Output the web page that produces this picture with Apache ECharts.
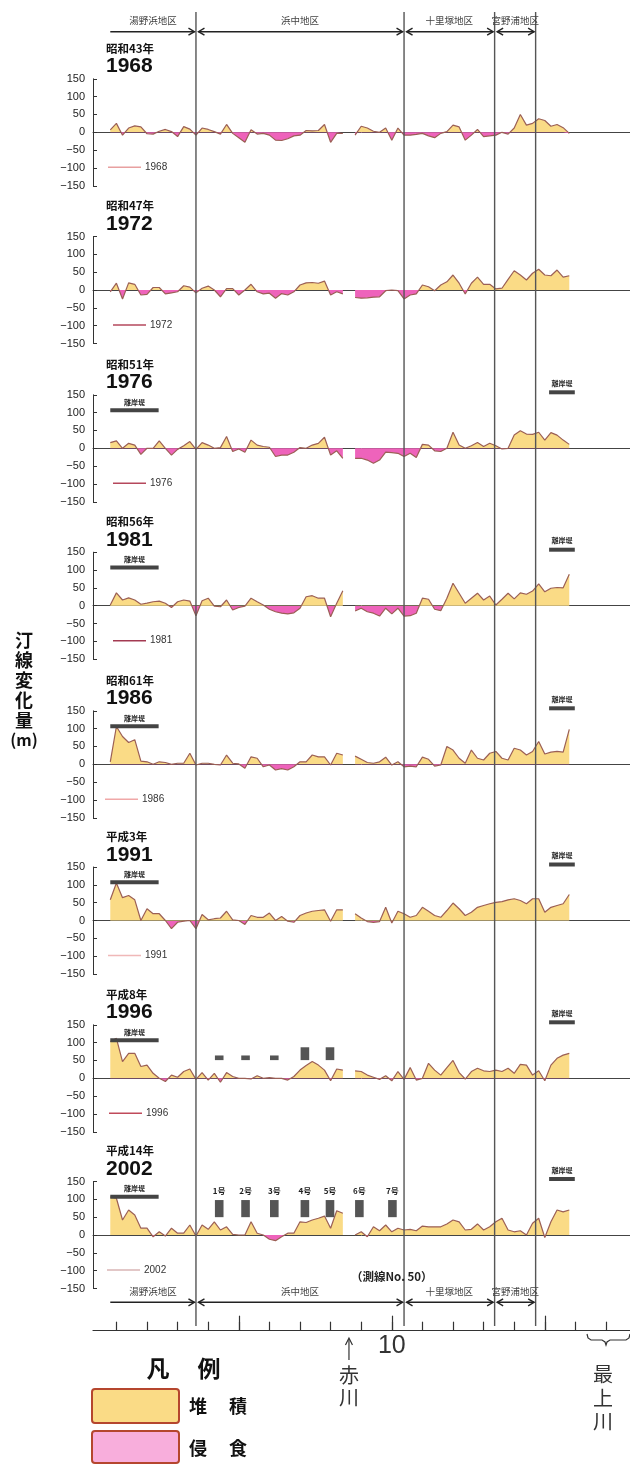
<!DOCTYPE html>
<html><head><meta charset="utf-8">
<script src="https://cdn.jsdelivr.net/npm/echarts@6/dist/echarts.min.js"></script>
<style>html,body{margin:0;padding:0;background:#fff}#c{width:630px;height:1465px}</style>
</head><body><div id="c"></div>
<script>
// ---------------- DATA ----------------
const years = ['1968','1972','1976','1981','1986','1991','1996','2002'];
const eras = ['昭和43年','昭和47年','昭和51年','昭和56年','昭和61年','平成3年','平成8年','平成14年'];
// survey line numbers (測線No.)
const surveyLines = [4,5,6,7,8,9,10,11,12,13,14,15,16,17,18,19,20,21,22,23,24,25,26,27,28,29,30,31,32,33,34,35,36,37,38,39,40,41,42,43,44,45,46,47,48,49,50,51,52,53,54,55,56,57,58,59,60,61,62,63,64,65,66,67,68,69,70,71,72,73,74,75,76,77,78,79];
const v1968 = [7,25,-8,12,18,15,-4,-5,3,8, 2,-12,16,9,-8,12,8,2,-5,22, -3,-15,-28,7,-5,-3,-8,-22,-23,-18, -10,-8,5,4,5,22,-28,-3,-3, null, -8,17,12,3,0,12,-22,12,-8,-8, -6,-3,-10,-15,-3,2,20,15,-22,-8, 8,-12,-10,-8,0,-5,12,50,20,25, 38,33,17,22,13,-3];
const v1972 = [-5,19,-25,20,16,-14,-12,7,7,-11, -8,-5,12,8,-8,5,11,0,-19,4, 4,-14,0,16,-5,-11,-9,-23,-10,-14, -5,14,20,21,19,25,-14,-5,-11, null, -21,-23,-22,-20,-19,-2,0,-2,-25,-14, -11,14,9,-2,14,23,42,19,-11,19, 36,16,16,3,5,30,54,42,28,47, 58,42,40,56,36,40];
const v1976 = [16,21,0,14,9,-17,0,0,21,0, -19,-3,7,19,-3,16,9,0,2,33, -9,-2,-11,23,9,5,3,-23,-19,-19, -11,2,0,9,14,31,-19,-7,-28, null, -28,-28,-33,-42,-33,-11,-12,-14,-23,-14, -26,11,9,-7,-9,0,45,9,0,7, 16,5,14,7,-2,0,37,49,40,39, 45,23,44,37,23,11];
const v1981 = [2,36,16,22,16,4,7,11,13,7, -5,11,16,13,-28,14,21,-1,-3,16, -12,-5,-1,21,11,2,-10,-17,-21,-23, -20,-7,25,28,21,21,-31,7,42, null, -15,-7,-17,-21,-29,-7,-23,-7,-29,-28, -21,21,18,-10,-14,21,63,35,7,21, 35,16,27,2,18,35,19,36,32,41, 61,39,49,51,50,88];
const v1986 = [7,106,78,61,69,9,7,0,7,5, 0,3,3,31,-2,3,3,0,-2,26, 3,1,-11,21,17,-7,-2,-16,-12,-16, -7,7,7,26,21,21,-2,31,26, null, 23,14,5,3,7,20,-2,7,-7,-5, -7,20,14,-5,-2,50,40,17,3,40, 17,12,31,36,17,12,45,40,26,36, 64,29,34,36,34,98];
const v1991 = [58,105,64,70,58,0,33,19,19,0, -23,-5,-2,0,-23,17,2,5,7,26, 2,0,-11,14,9,9,21,0,11,-2, -5,14,21,26,28,30,-2,30,30, null, 19,7,-3,-5,-3,37,-7,26,19,9, 14,37,26,14,9,28,49,33,14,23, 37,42,47,51,53,58,61,56,47,61, 61,23,37,42,47,73];
const v1996 = [103,112,47,70,70,33,37,14,0,-9, 9,3,19,26,-3,16,-5,14,-11,16, 5,0,0,-2,7,0,2,0,0,-5, 5,23,36,47,37,23,-7,26,23, null, 21,19,9,3,-3,7,-7,19,-3,30, -5,0,42,23,9,30,50,16,-2,19, 28,21,19,23,19,28,14,39,37,9, 21,-7,37,56,65,70];
const v2002 = [107,103,42,70,56,19,19,-5,9,-3, 19,5,5,28,-3,28,16,37,14,23, 2,0,0,37,5,0,-12,-16,-5,5, 5,37,35,42,47,53,19,68,61, null, 0,9,-5,23,12,28,9,19,14,16, 12,25,23,23,23,31,42,37,14,16, 31,14,23,37,47,14,9,12,0,33, 47,-7,37,70,65,70];
const allValues = [v1968,v1972,v1976,v1981,v1986,v1991,v1996,v2002];

const districts = ['湯野浜地区','浜中地区','十里塚地区','宮野浦地区'];
const districtFrom = [4, 18, 52, 66.8];
const districtTo = [18, 52, 66.8, 73.5];
const bottomTickLines = [5,10,15,20,25,30,35,40,45,50,55,60,65,70,75,80,85];
const majorTickLines = [25,50,75];
const labelledTick = [50];
const akagawaLine = 43;
const mogamiLine = 85;

// 離岸堤 (detached breakwaters)
const bwLeftPanels = [2,3,4,5,6,7];
const bwLeftRange = [4, 11.9]; const bwLeftLevel = 107;
const bwRightPanels = [2,3,4,5,6,7];
const bwRightRange = [75.7, 79.9]; const bwRightLevel = 157;
// structures in 浜中
const struct1996Lines = [21.8, 26.1, 30.8, 35.8, 39.9];
const struct1996Low = [51, 51, 51, 51, 51];
const struct1996High = [64, 64, 64, 87, 87];
const struct2002Names = ['1号','2号','3号','4号','5号','6号','7号'];
const struct2002Lines = [21.8, 26.1, 30.8, 35.8, 39.9, 44.7, 50.1];
const struct2002Low = 50, struct2002High = 98, struct2002Label = 124;

// ---------------- LAYOUT / STYLE ----------------
const zeros = [132.3, 290, 448.3, 605.7, 764.3, 920.5, 1078.3, 1235];
const HALF = 53.5;
const X_MIN = 1.176, X_MAX = 88.92;
const YELLOW = '#FADB86', PINK = '#EE63BB', LINE = '#9b5f55';
const JP = "'Noto Sans CJK JP', sans-serif";
const NUM = "'Liberation Sans', Arial, sans-serif";
const legendLineColors = ['#e8a0a0','#b5485c','#b5485c','#a33a52','#f0a8a8','#f0b8b8','#c04a5a','#d8b4b4'];
const legendX = [108,113,113,113,105,108,109,107];

const chart = echarts.init(document.getElementById('c'), null, {renderer:'canvas'});
const grids = [], xAxes = [], yAxes = [], series = [];
allValues.forEach((vals, i) => {
  grids.push({left:93, right:0, top:zeros[i]-HALF, height:2*HALF});
  xAxes.push({type:'value', gridIndex:i, min:X_MIN, max:X_MAX,
    axisLine:{show:true, onZero:true, lineStyle:{color:'#444', width:1}},
    axisTick:{show:false}, axisLabel:{show:false}, splitLine:{show:false}});
  yAxes.push({type:'value', gridIndex:i, min:-150, max:150, interval:50,
    axisLine:{show:true, lineStyle:{color:'#333', width:1}},
    axisTick:{show:true, inside:true, length:4, lineStyle:{color:'#333'}},
    axisLabel:{fontSize:11, color:'#222', margin:8, fontFamily:NUM,
      formatter: v => String(v).replace('-', '−')},
    splitLine:{show:false}});
  const data = surveyLines.map((n, k) => [n, vals[k] == null ? '-' : vals[k]]);
  const fill = {type:'linear', global:true, x:0, y:zeros[i]-HALF, x2:0, y2:zeros[i]+HALF,
    colorStops:[{offset:0,color:YELLOW},{offset:0.5,color:YELLOW},{offset:0.5,color:PINK},{offset:1,color:PINK}]};
  series.push({type:'line', xAxisIndex:i, yAxisIndex:i, data, symbol:'none', showSymbol:false,
    lineStyle:{width:0, color:'rgba(0,0,0,0)'}, areaStyle:{opacity:1, color:fill}, connectNulls:false, silent:true, z:2});
  series.push({type:'line', xAxisIndex:i, yAxisIndex:i, data, symbol:'none', showSymbol:false,
    lineStyle:{width:1.2, color:LINE}, itemStyle:{color:LINE}, connectNulls:false, silent:true, z:3});
});
// bottom survey-line axis
grids.push({left:93, right:0, top:1300, height:30.7});
xAxes.push({type:'value', gridIndex:8, min:X_MIN, max:X_MAX, position:'bottom',
  axisLine:{show:true, onZero:false, lineStyle:{color:'#333', width:1.2}},
  axisTick:{show:true, inside:true, length:9, customValues:bottomTickLines, lineStyle:{color:'#333', width:1.2}},
  axisLabel:{show:true, customValues:labelledTick, formatter: v => String(v/5), fontSize:25, color:'#333', margin:3, fontFamily:NUM},
  splitLine:{show:false}});
xAxes.push({type:'value', gridIndex:8, min:X_MIN, max:X_MAX, position:'bottom',
  axisLine:{show:false, onZero:false},
  axisTick:{show:true, inside:true, length:15, customValues:majorTickLines, lineStyle:{color:'#333', width:1.2}},
  axisLabel:{show:false}, splitLine:{show:false}});
yAxes.push({type:'value', gridIndex:8, min:0, max:1, show:false});

chart.setOption({
  animation:false,
  backgroundColor:'#fff',
  grid:grids, xAxis:xAxes, yAxis:yAxes, series
});

// ---------------- ANNOTATIONS ----------------
const px = n => chart.convertToPixel({xAxisIndex:0}, n);
const py = (i, v) => chart.convertToPixel({yAxisIndex:i}, v);
const G = [];
const txt = (x, y, text, o={}) => G.push({type:'text', x, y, silent:true, z:50,
  style:Object.assign({text, fontSize:10, fill:'#222', fontFamily:JP, align:'center', verticalAlign:'middle'}, o)});
const ln = (x1,y1,x2,y2,stroke='#222',w=1) => G.push({type:'line', silent:true, z:40,
  shape:{x1,y1,x2,y2}, style:{stroke, lineWidth:w}});
const pl = (points, stroke='#222', w=1.4) => G.push({type:'polyline', silent:true, z:40,
  shape:{points}, style:{stroke, lineWidth:w, fill:'none'}});
const head = (x, y, dir, s=6, h=3.5) => pl([[x - dir*s, y - h],[x, y],[x - dir*s, y + h]]);

// boundary lines
districtTo.forEach(b => ln(px(b), 12, px(b), 1326, '#555', 1.4));

// district headers (top and bottom)
[[20, 31.7],[1291.7, 1302.3]].forEach(([ly, ay]) => {
  districts.forEach((d, k) => {
    const a = px(districtFrom[k]), b = px(districtTo[k]);
    txt((a+b)/2, ly, d, {fontSize:9.5, fill:'#444'});
    const x1 = k === 0 ? a : a + 2.5, x2 = b - 1.5;
    ln(x1, ay, x2, ay, '#222', 1.6);
    head(x2, ay, 1);
    if (k > 0) head(x1, ay, -1);
  });
});

// panel titles and legends
years.forEach((yr, i) => {
  const z0 = zeros[i];
  txt(106, z0 - 84, eras[i], {align:'left', fontSize:11.5, fontWeight:'bold', fill:'#111'});
  txt(106, z0 - 65.6, yr, {align:'left', fontSize:21, fontWeight:'bold', fill:'#111', fontFamily:NUM});
  const lx = legendX[i];
  ln(lx, z0 + 35, lx + 33, z0 + 35, legendLineColors[i], 1.5);
  txt(lx + 37, z0 + 35, yr, {align:'left', fontSize:10, fill:'#333', fontFamily:NUM});
});

// breakwaters
bwLeftPanels.forEach(i => {
  const x1 = px(bwLeftRange[0]), x2 = px(bwLeftRange[1]), y = py(i, bwLeftLevel);
  G.push({type:'rect', silent:true, z:45, shape:{x:x1, y:y-2, width:x2-x1, height:4}, style:{fill:'#444'}});
  txt((x1+x2)/2, y - 8, '離岸堤', {fontSize:7, fontWeight:'bold'});
});
bwRightPanels.forEach(i => {
  const x1 = px(bwRightRange[0]), x2 = px(bwRightRange[1]), y = py(i, bwRightLevel);
  G.push({type:'rect', silent:true, z:45, shape:{x:x1, y:y-2, width:x2-x1, height:4}, style:{fill:'#444'}});
  txt((x1+x2)/2, y - 9, '離岸堤', {fontSize:7, fontWeight:'bold'});
});
// structures
struct1996Lines.forEach((n, k) => {
  const x = px(n), yT = py(6, struct1996High[k]), yB = py(6, struct1996Low[k]);
  G.push({type:'rect', silent:true, z:45, shape:{x:x-4.3, y:yT, width:8.6, height:yB-yT}, style:{fill:'#555'}});
});
struct2002Lines.forEach((n, k) => {
  const x = px(n), yT = py(7, struct2002High), yB = py(7, struct2002Low);
  G.push({type:'rect', silent:true, z:45, shape:{x:x-4.3, y:yT, width:8.6, height:yB-yT}, style:{fill:'#555'}});
  txt(x, py(7, struct2002Label), struct2002Names[k], {fontSize:8, fontWeight:'bold'});
});

// bottom annotations
txt(px(50), 1276.7, '（測線No. 50）', {fontSize:11.5, fontWeight:'bold', fill:'#222'});
const ax = px(akagawaLine);
ln(ax, 1339, ax, 1360, '#333', 1.2);
pl([[ax-3.5,1345],[ax,1338],[ax+3.5,1345]], '#333', 1.2);
txt(ax, 1375, '赤', {fontSize:20, fill:'#333'});
txt(ax, 1397, '川', {fontSize:20, fill:'#333'});
const mx = px(mogamiLine);
pl([[mx-19,1334],[mx-18,1338],[mx-15,1340],[mx-4,1340],[mx-1,1342],[mx,1345],[mx+1,1342],[mx+4,1340],[mx+20,1340],[mx+23,1338],[mx+24,1334]], '#333', 1.2);
txt(mx - 3, 1374, '最', {fontSize:20, fill:'#333'});
txt(mx - 3, 1398, '上', {fontSize:20, fill:'#333'});
txt(mx - 3, 1421, '川', {fontSize:20, fill:'#333'});

// legend 凡例
txt(158, 1368, '凡', {fontSize:23, fontWeight:'bold', fill:'#111'});
txt(209, 1368, '例', {fontSize:23, fontWeight:'bold', fill:'#111'});
G.push({type:'rect', silent:true, z:40, shape:{x:92, y:1389, width:87, height:34, r:3}, style:{fill:YELLOW, stroke:'#B5462E', lineWidth:2}});
G.push({type:'rect', silent:true, z:40, shape:{x:92, y:1431, width:87, height:32, r:3}, style:{fill:'#F8AEDC', stroke:'#B5462E', lineWidth:2}});
txt(198, 1406, '堆', {fontSize:18, fontWeight:'bold', fill:'#111'});
txt(238, 1406, '積', {fontSize:18, fontWeight:'bold', fill:'#111'});
txt(198, 1448, '侵', {fontSize:18, fontWeight:'bold', fill:'#111'});
txt(238, 1448, '食', {fontSize:18, fontWeight:'bold', fill:'#111'});

// y title
['汀','線','変','化','量'].forEach((c, k) => txt(24, 640 + k*20, c, {fontSize:18, fontWeight:'bold', fill:'#111'}));
txt(24, 740, '(m)', {fontSize:16, fontWeight:'bold', fill:'#111'});

chart.setOption({graphic: G});
</script></body></html>
